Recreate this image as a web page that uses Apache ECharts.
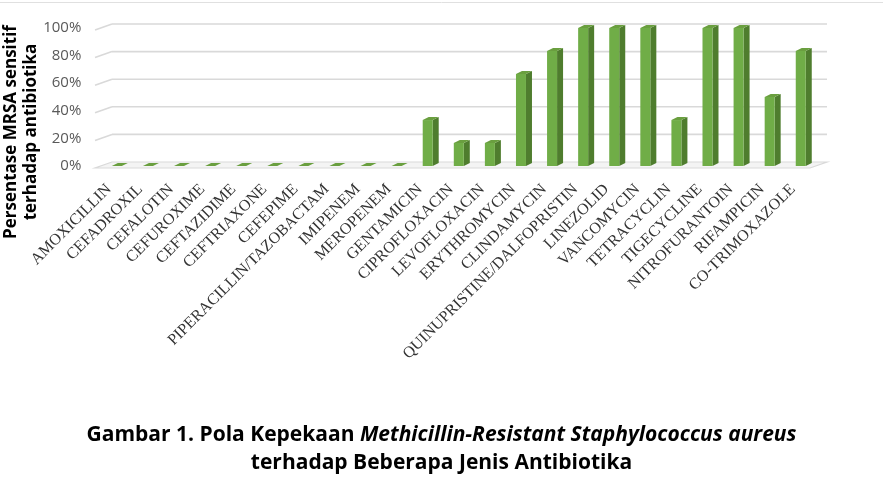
<!DOCTYPE html>
<html>
<head>
<meta charset="utf-8">
<script src="https://cdn.jsdelivr.net/npm/echarts@6/dist/echarts.min.js"></script>
<style>
  html, body { margin: 0; padding: 0; background: #fff; }
  #chart { width: 883px; height: 494px; }
</style>
</head>
<body>
<div id="chart"></div>
<script>
// data
const antibiotics = [
  'AMOXICILLIN', 'CEFADROXIL', 'CEFALOTIN', 'CEFUROXIME', 'CEFTAZIDIME',
  'CEFTRIAXONE', 'CEFEPIME', 'PIPERACILLIN/TAZOBACTAM', 'IMIPENEM', 'MEROPENEM',
  'GENTAMICIN', 'CIPROFLOXACIN', 'LEVOFLOXACIN', 'ERYTHROMYCIN', 'CLINDAMYCIN',
  'QUINUPRISTINE/DALFOPRISTIN', 'LINEZOLID', 'VANCOMYCIN', 'TETRACYCLIN',
  'TIGECYCLINE', 'NITROFURANTOIN', 'RIFAMPICIN', 'CO-TRIMOXAZOLE'
]
const sensitif = [
  0, 0, 0, 0, 0, 0, 0, 0, 0, 0,
  33.3, 16.7, 16.7, 66.7, 83.3, 100, 100, 100, 33.3, 100, 100, 50, 83.3
]
const yTicks = [0, 20, 40, 60, 80, 100]

let myChart = echarts.init(document.getElementById('chart'))

// offset of the back wall from the front plane
const backDx = 10.7
const backDy = -4
const wallDepth = 17

// back wall gridlines + floor
function renderWall(params, api) {
  const cs = params.coordSys
  const v = api.value(1)
  const y = api.coord([0, v])[1] + backDy
  const xl = cs.x + backDx
  const xr = cs.x + cs.width + backDx
  const lineStyle = { stroke: '#d9d9d9', lineWidth: 1.6 }
  const children = []
  if (v === 0) {
    children.push({
      type: 'polygon',
      shape: { points: [[xl, y], [xr, y], [xr - wallDepth, y + 6], [xl - wallDepth, y + 6]] },
      style: { fill: '#f4f4f4', stroke: '#d9d9d9', lineWidth: 1.2 }
    })
  } else {
    children.push({ type: 'line', shape: { x1: xl - wallDepth, y1: y + 6, x2: xl, y2: y }, style: lineStyle })
    children.push({ type: 'line', shape: { x1: xl, y1: y, x2: xr, y2: y }, style: lineStyle })
  }
  return { type: 'group', children: children }
}

// 3D looking bar
function renderBar(params, api) {
  const top = api.coord([api.value(0), api.value(1)])
  const base = api.coord([api.value(0), 0])
  const x = top[0], yt = top[1], yb = base[1]
  const hw = 5, dx = 6, dy = -3
  return {
    type: 'group',
    children: [
      {
        type: 'polygon',
        shape: { points: [[x + hw, yt], [x + hw + dx, yt + dy], [x + hw + dx, yb + dy], [x + hw, yb]] },
        style: { fill: '#4f7d2e' }
      },
      {
        type: 'rect',
        shape: { x: x - hw, y: yt, width: hw * 2, height: yb - yt },
        style: { fill: '#70ad47' }
      },
      {
        type: 'polygon',
        shape: { points: [[x - hw, yt], [x + hw, yt], [x + hw + dx, yt + dy], [x - hw + dx, yt + dy]] },
        style: { fill: '#6a9f3f' }
      }
    ]
  }
}

let opt = {
  animation: false,
  title: {
    left: 'center',
    top: 416,
    text: '{b|Gambar 1. Pola Kepekaan }{bi|Methicillin-Resistant Staphylococcus aureus}\n{b|terhadap Beberapa Jenis Antibiotika}',
    textStyle: {
      rich: {
        b: { fontFamily: 'Open Sans', fontWeight: 'bold', fontSize: 21, color: '#000', lineHeight: 28 },
        bi: { fontFamily: 'Open Sans', fontWeight: 'bold', fontStyle: 'italic', fontSize: 21, color: '#000', lineHeight: 28 }
      }
    }
  },
  graphic: [
    {
      type: 'line',
      shape: { x1: 0, y1: 2.5, x2: 883, y2: 2.5 },
      style: { stroke: '#e0e0e0', lineWidth: 1 }
    },
    {
      type: 'text',
      x: 21,
      y: 132,
      rotation: Math.PI / 2,
      style: {
        text: 'Persentase MRSA sensitif\nterhadap antibiotika',
        fontFamily: 'Open Sans',
        fontWeight: 'bold',
        fontSize: 17,
        lineHeight: 20,
        fill: '#000',
        align: 'center',
        verticalAlign: 'middle'
      }
    }
  ],
  grid: {
    left: 101.3,
    right: 66.7,
    top: 28,
    bottom: 328,
    containLabel: false
  },
  xAxis: {
    type: 'category',
    data: antibiotics,
    axisLine: { show: false },
    axisTick: { show: false },
    axisLabel: {
      interval: 0,
      rotate: 45,
      margin: 13,
      padding: [0, 11, 0, 0],
      fontFamily: 'Liberation Serif',
      fontSize: 16,
      color: '#333'
    }
  },
  yAxis: {
    type: 'value',
    min: 0,
    max: 100,
    interval: 20,
    axisLine: { show: false },
    axisTick: { show: false },
    splitLine: { show: false },
    axisLabel: {
      formatter: '{value}%',
      margin: 20,
      padding: [8, 0, 0, 0],
      fontFamily: 'Open Sans',
      fontSize: 15,
      color: '#595959'
    }
  },
  series: [
    {
      name: 'wall',
      type: 'custom',
      silent: true,
      z: 1,
      data: yTicks.map(v => [0, v]),
      renderItem: renderWall
    },
    {
      name: 'Persentase',
      type: 'custom',
      z: 2,
      data: sensitif.map((v, i) => [i, v]),
      renderItem: renderBar
    }
  ]
}

myChart.setOption(opt)
</script>
</body>
</html>
